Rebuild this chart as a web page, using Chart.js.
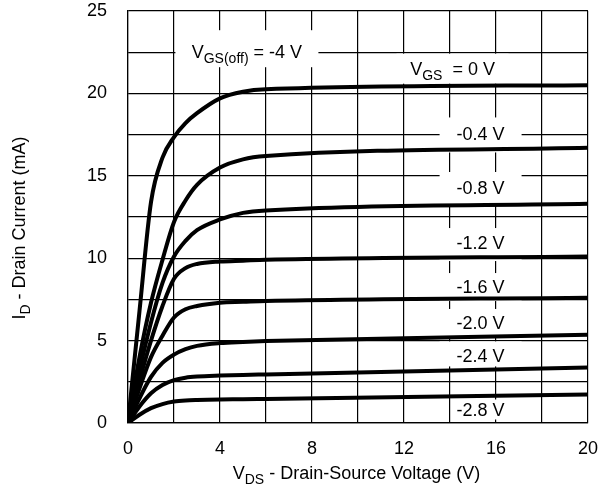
<!DOCTYPE html>
<html>
<head>
<meta charset="utf-8">
<script src="https://cdn.jsdelivr.net/npm/chart.js@4.4.1/dist/chart.umd.min.js"></script>
<style>
  html, body { margin: 0; padding: 0; background: #fff; }
  #wrap { width: 607px; height: 486px; position: relative; }
</style>
</head>
<body>
<div id="wrap"><canvas id="ivchart"></canvas></div>
<script>
/* JFET output curves: drain current (mA) vs drain-source voltage (V) */

var vds = [0, 0.5, 1, 1.5, 2, 2.5, 3, 4, 5, 6, 20];

var id_0v  = [0, 6.8, 13.4, 16.1, 17.35, 18.2, 18.8, 19.7, 20.1, 20.25, 20.5];
var id_04v = [0, 4.0, 7.3, 9.9, 12.2, 13.5, 14.45, 15.5, 16.0, 16.2, 16.7];
var id_08v = [0, 3.2, 6.1, 8.5, 10.1, 11.05, 11.7, 12.35, 12.75, 12.9, 13.3];
var id_12v = [0, 2.6, 5.0, 7.1, 8.75, 9.4, 9.65, 9.8, 9.85, 9.9, 10.1];
var id_16v = [0, 2.1, 4.0, 5.3, 6.4, 6.9, 7.1, 7.3, 7.35, 7.4, 7.6];
var id_20v = [0, 1.5, 2.8, 3.65, 4.15, 4.48, 4.68, 4.85, 4.92, 4.97, 5.35];
var id_24v = [0, 1.0, 1.8, 2.3, 2.6, 2.75, 2.82, 2.88, 2.92, 2.95, 3.37];
var id_28v = [0, 0.5, 0.9, 1.15, 1.3, 1.37, 1.4, 1.43, 1.44, 1.46, 1.73];

var curves = [id_0v, id_04v, id_08v, id_12v, id_16v, id_20v, id_24v, id_28v];

var xTicks = [0, 4, 8, 12, 16, 20];
var yTicks = [0, 5, 10, 15, 20, 25];

var FONT = '"Liberation Sans", Arial, Helvetica, sans-serif';

// curve tags: text center in data units, white box size in px
var tags = [
  { parts: [['V'], ['GS(off)', 1], [' = -4 V']], x: 5.17, y: 22.53, bw: 143, bh: 37, dy: -3 },
  { parts: [['V'], ['GS', 1], ['  = 0 V']], x: 14.11, y: 21.5, bw: 112, bh: 30, dy: 0 },
  { parts: [['-0.4 V']], x: 15.33, y: 17.54, bw: 82, bh: 35, dy: 1 },
  { parts: [['-0.8 V']], x: 15.33, y: 14.29, bw: 82, bh: 33, dy: 1 },
  { parts: [['-1.2 V']], x: 15.33, y: 10.95, bw: 82, bh: 33, dy: 2 },
  { parts: [['-1.6 V']], x: 15.33, y: 8.31, bw: 82, bh: 28, dy: 1 },
  { parts: [['-2.0 V']], x: 15.33, y: 6.07, bw: 82, bh: 28, dy: 0 },
  { parts: [['-2.4 V']], x: 15.33, y: 4.07, bw: 82, bh: 25, dy: -2 },
  { parts: [['-2.8 V']], x: 15.33, y: 0.82, bw: 52, bh: 20, dy: 0 }
];

function partsWidth(ctx, parts) {
  var w = 0;
  parts.forEach(function (p) {
    ctx.font = (p[1] ? '14px ' : '18px ') + FONT;
    w += ctx.measureText(p[0]).width;
  });
  return w;
}

// draws text with subscripts, centered at (cx, cy) in the current transform
function drawParts(ctx, parts, cx, cy) {
  var x = cx - partsWidth(ctx, parts) / 2;
  var base = cy + 6.5;
  ctx.textAlign = 'left';
  ctx.textBaseline = 'alphabetic';
  ctx.fillStyle = '#000';
  parts.forEach(function (p) {
    ctx.font = (p[1] ? '14px ' : '18px ') + FONT;
    ctx.fillText(p[0], x, p[1] ? base + 5 : base);
    x += ctx.measureText(p[0]).width;
  });
}

var tagPlugin = {
  id: 'tagPlugin',
  beforeDatasetsDraw: function (chart) {
    var ctx = chart.ctx;
    var xs = chart.scales.x, ys = chart.scales.y;
    ctx.save();
    tags.forEach(function (t) {
      var px = xs.getPixelForValue(t.x);
      var py = ys.getPixelForValue(t.y);
      ctx.fillStyle = '#fff';
      ctx.fillRect(px - t.bw / 2, py + t.dy - t.bh / 2, t.bw, t.bh);
    });
    tags.forEach(function (t) {
      drawParts(ctx, t.parts, xs.getPixelForValue(t.x), ys.getPixelForValue(t.y));
    });
    ctx.restore();
  },
  afterDraw: function (chart) {
    var ctx = chart.ctx;
    var area = chart.chartArea;
    ctx.save();
    // x axis title
    drawParts(ctx, [['V'], ['DS', 1], [' - Drain-Source Voltage (V)']],
      (area.left + area.right) / 2 - 1.5, 472);
    // y axis title, rotated
    ctx.translate(18, 228);
    ctx.rotate(-Math.PI / 2);
    drawParts(ctx, [['I'], ['D', 1], [' - Drain Current (mA)']], 0, 0);
    ctx.restore();
  }
};

var datasets = curves.map(function (c) {
  return {
    data: vds.map(function (v, i) { return { x: v, y: c[i] }; }),
    borderColor: '#000',
    borderWidth: 4,
    pointRadius: 0,
    fill: false,
    cubicInterpolationMode: 'monotone'
  };
});

new Chart(document.getElementById('ivchart'), {
  type: 'line',
  data: { datasets: datasets },
  plugins: [tagPlugin],
  options: {
    responsive: true,
    maintainAspectRatio: false,
    animation: false,
    layout: { padding: 0 },
    plugins: { legend: { display: false }, tooltip: { enabled: false } },
    scales: {
      x: {
        type: 'linear',
        min: 0,
        max: 20,
        afterFit: function (s) {
          s.height = 63;
          s.paddingLeft = 0;
          s.paddingRight = 19;
        },
        ticks: {
          stepSize: 2,
          autoSkip: false,
          maxRotation: 0,
          padding: 15,
          color: '#000',
          font: { family: FONT, size: 18 },
          callback: function (v) { return xTicks.indexOf(v) >= 0 ? String(v) : ''; }
        },
        grid: { color: '#000', lineWidth: 1.2, drawTicks: false },
        border: { color: '#000', width: 1.2 }
      },
      y: {
        type: 'linear',
        min: 0,
        max: 25,
        afterFit: function (s) {
          s.width = 128;
          s.paddingTop = 11;
          s.paddingBottom = 0;
        },
        ticks: {
          stepSize: 2.5,
          autoSkip: false,
          padding: 21,
          color: '#000',
          font: { family: FONT, size: 18 },
          callback: function (v) { return yTicks.indexOf(v) >= 0 ? String(v) : ''; }
        },
        grid: { color: '#000', lineWidth: 1.2, drawTicks: false },
        border: { color: '#000', width: 1.2 }
      }
    }
  }
});
</script>
</body>
</html>
